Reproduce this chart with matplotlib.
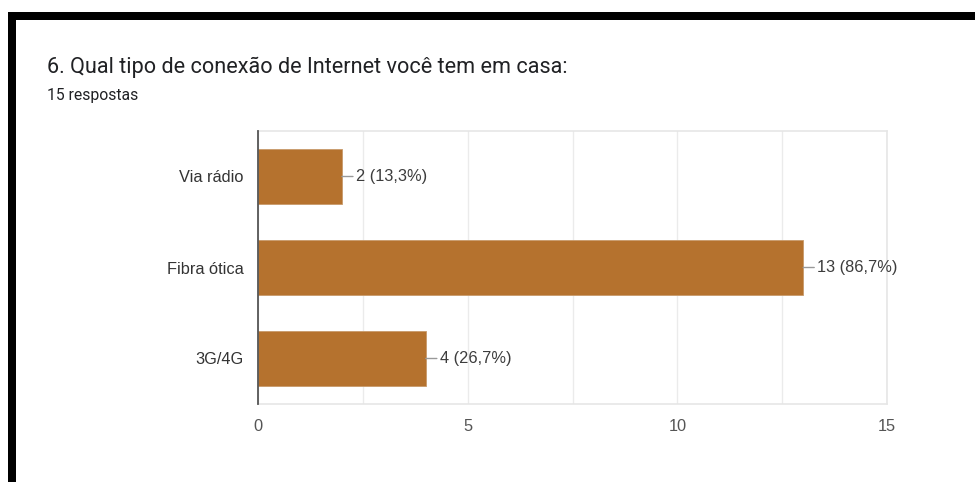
import matplotlib.pyplot as plt
from matplotlib.patches import Rectangle

categorias = ['Via rádio', 'Fibra ótica', '3G/4G']
respostas = [2, 13, 4]
total = 15
xticks = [0, 5, 10, 15]

cor_barra = '#b5722e'

fig = plt.figure(figsize=(9.75, 4.82), dpi=100)
fig.patch.set_facecolor('white')

# moldura preta (topo e esquerda)
W, H = 975, 482
fig.add_artist(Rectangle((8 / W, 1 - 20 / H), 1 - 8 / W, 8 / H,
                         transform=fig.transFigure, color='black', lw=0))
fig.add_artist(Rectangle((8 / W, 0), 8 / W, 1 - 12 / H,
                         transform=fig.transFigure, color='black', lw=0))

fig.text(47 / W, 1 - 73 / H, '6. Qual tipo de conexão de Internet você tem em casa:',
         fontsize=15.6, family='Roboto', color='#202124', va='baseline')
fig.text(47 / W, 1 - 100 / H, '15 respostas', fontsize=11.3, family='Roboto',
         color='#202124', va='baseline')

ax = fig.add_axes([258 / W, 78 / H, 629 / W, 273 / H])
pos = list(range(len(categorias)))
ax.barh(pos, respostas, height=0.615, color=cor_barra, edgecolor='#c89a6a',
        linewidth=0.6, zorder=3)
ax.set_ylim(len(categorias) - 0.5, -0.5)
ax.set_xlim(0, 15)

for i, v in enumerate(respostas):
    pct = f'{v / total * 100:.1f}'.replace('.', ',')
    ax.annotate(f'{v} ({pct}%)', xy=(v, i), xytext=(10, 0), textcoords='offset points',
                va='center', ha='left', fontsize=11.8, family='Liberation Sans',
                color='#3c3c3c',
                arrowprops=dict(arrowstyle='-', color='#999999', lw=1,
                                shrinkA=0, shrinkB=0))

ax.set_xticks(xticks)
ax.set_xticks([2.5, 7.5, 12.5], minor=True)
ax.set_xticklabels([str(t) for t in xticks], fontsize=11.8, family='Liberation Sans',
                   color='#555555')
ax.set_yticks(pos)
ax.set_yticklabels(categorias, fontsize=11.8, family='Liberation Sans', color='#333333')
ax.tick_params(axis='both', which='both', length=0)
ax.tick_params(axis='x', pad=10.5)
ax.tick_params(axis='y', pad=10.5)
ax.grid(axis='x', which='both', color='#ebebeb', lw=1, zorder=0)

for s in ['top', 'right', 'bottom']:
    ax.spines[s].set_color('#e6e6e6')
    ax.spines[s].set_linewidth(1.2)
ax.spines['left'].set_color('#555555')
ax.spines['left'].set_linewidth(1.3)
ax.spines['left'].set_zorder(4)

fig.savefig('out.png', dpi=100)
